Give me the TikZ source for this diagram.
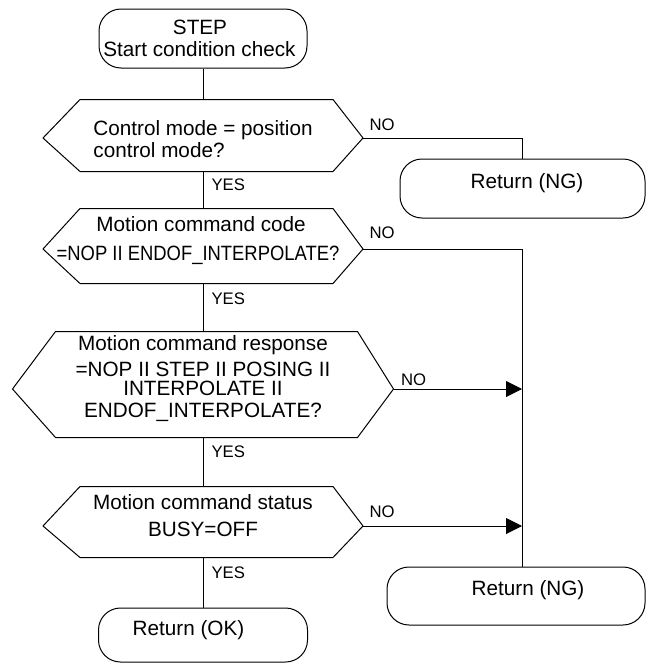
\documentclass[tikz,border=0pt]{standalone}
\usepackage{fontspec}
\setmainfont{Liberation Sans}
\usetikzlibrary{arrows.meta}
\newcommand\hexpath[4]{% name, left inset, right inset, drop of side points
  \draw ([xshift=#2]#1.north west) -- ([xshift=-#3]#1.north east)
    -- ([yshift=-#4]#1.east) coordinate (#1e)
    -- ([xshift=-#3]#1.south east) -- ([xshift=#2]#1.south west)
    -- ([yshift=-#4]#1.west) coordinate (#1w) -- cycle;}
\begin{document}
\begin{tikzpicture}[x=1pt,y=-1pt,line width=1pt,
  main/.style={font=\fontsize{20.7pt}{22pt}\selectfont},
  lbl/.style={font=\fontsize{16.7pt}{18pt}\selectfont, inner sep=4pt},
  term/.style={main, draw, rectangle, rounded corners=22pt, inner sep=0pt, align=center},
  hexnode/.style={main, rectangle, inner sep=0pt, align=center},
  arr/.style={-{Triangle[length=16pt,width=16pt]}}]
\useasboundingbox (0,0) rectangle (646,664);

% terminals
\node[term, minimum width=208pt, minimum height=59pt] (start) at (203,38.5) {STEP\hspace*{6pt}\\Start condition check\hspace*{7pt}};
\node[term, minimum width=245pt, minimum height=59pt] (ng1) at (522.5,188.5) {\hspace*{9pt}Return (NG)\rule[-15pt]{0pt}{0pt}};
\node[term, minimum width=258pt, minimum height=58pt] (ng2) at (516,596) {\hspace*{24pt}Return (NG)\rule[-16pt]{0pt}{0pt}};
\node[term, minimum width=209pt, minimum height=54pt] (ok) at (203,635) {Return (OK)\hspace*{29pt}\rule[-14pt]{0pt}{0pt}};

% decisions
\node[hexnode, align=left, minimum width=319pt, minimum height=71pt] (d1) at (203,135.5) {\rule{0pt}{22pt}Control mode = position\\control mode?};
\hexpath{d1}{37pt}{30pt}{2.5pt}
\node[hexnode, minimum width=319pt, minimum height=74pt] (d2) at (203,246) {Motion command code\hspace*{4pt}\\[7pt]\scalebox{0.89}[1]{=NOP II ENDOF\_INTERPOLATE?}\hspace*{10pt}\rule[-15pt]{0pt}{0pt}};
\hexpath{d2}{37pt}{30pt}{3pt}
\node[hexnode, minimum width=380pt, minimum height=105pt] (d3) at (203,384.5) {Motion command response\\[4pt]=NOP II STEP II POSING II\\[-3pt]INTERPOLATE II\\ENDOF\_INTERPOLATE?\rule[-16pt]{0pt}{0pt}};
\hexpath{d3}{43pt}{36pt}{4.5pt}
\node[hexnode, minimum width=319pt, minimum height=70pt] (d4) at (203,522) {Motion command status\\[5pt]BUSY=OFF\rule[-13pt]{0pt}{0pt}};
\hexpath{d4}{37pt}{30pt}{4pt}

\coordinate (bus) at ([xshift=6pt]ng2.north);

% main flow
\draw (start.south) -- (d1.north);
\draw (d1.south) -- node[lbl, pos=0.35, anchor=west, xshift=4pt] {YES} (d2.north);
\draw (d2.south) -- node[lbl, pos=0.31, anchor=west, xshift=4pt] {YES} (d3.north);
\draw (d3.south) -- node[lbl, pos=0.30, anchor=west, xshift=4pt] {YES} (d4.north);
\draw (d4.south) -- node[lbl, pos=0.31, anchor=west, xshift=4pt] {YES} (ok.north);

% NO branches
\draw (d1e) -| node[lbl, pos=0, anchor=south west, xshift=2pt, yshift=3pt] {NO} (ng1.north);
\draw (d2e) -| node[lbl, pos=0, anchor=south west, xshift=2pt, yshift=6pt] {NO} (bus);
\draw[arr] (d3e) -- node[lbl, pos=0, anchor=south west, xshift=3pt, yshift=-1pt] {NO} (d3e -| bus);
\draw[arr] (d4e) -- node[lbl, pos=0, anchor=south west, xshift=2pt, yshift=4pt] {NO} (d4e -| bus);
\end{tikzpicture}
\end{document}
